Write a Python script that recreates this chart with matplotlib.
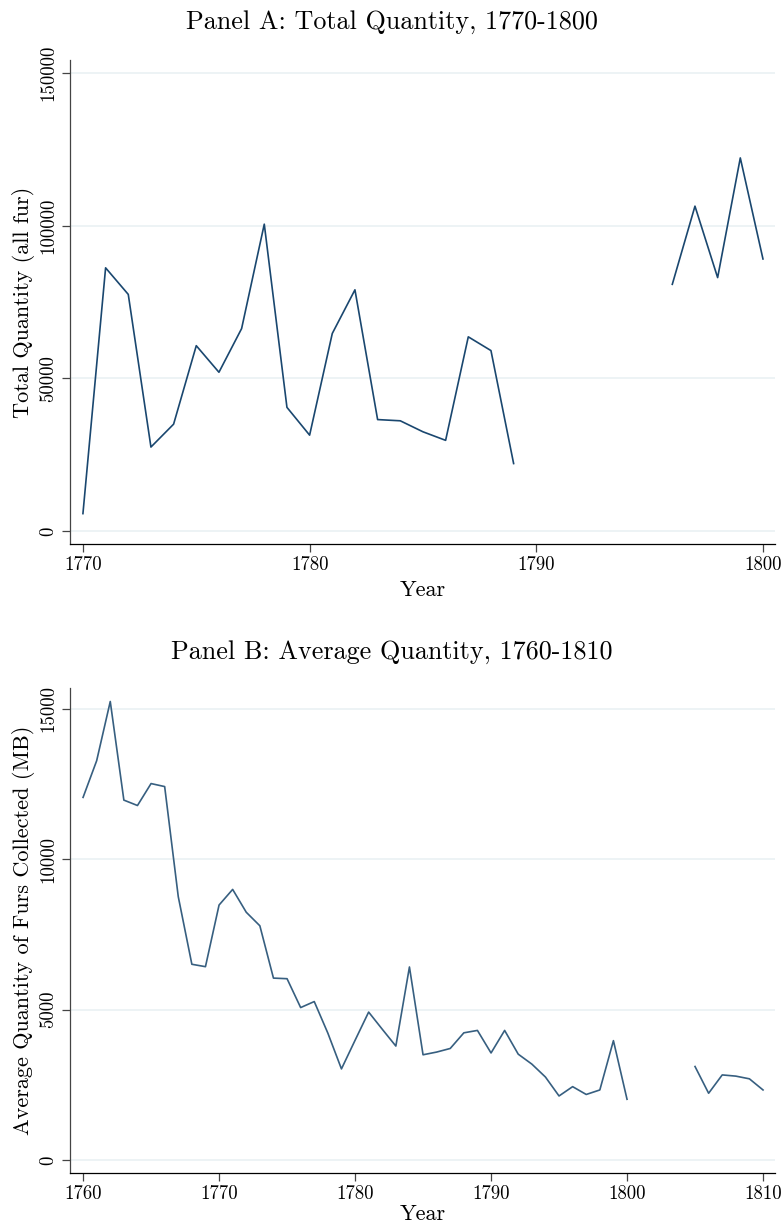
import numpy as np
import matplotlib
matplotlib.use("Agg")
import matplotlib.pyplot as plt

# ===== Data =====
# Panel A: total quantity of furs, 1770-1800 (no data 1790-1795)
years_total = list(range(1770, 1801))
total_qty = [5700, 86200, 77500, 27500, 35000, 60700, 52000, 66300, 100500, 40500,
             31400, 64700, 79000, 36500, 36100, 32500, 29700, 63600, 59100, 22100,
             np.nan, np.nan, np.nan, np.nan, np.nan, np.nan,
             80800, 106400, 83000, 122200, 89100]

# Panel B: average quantity of furs collected (MB), 1760-1810 (no data 1801-1804)
years_avg = list(range(1760, 1811))
avg_qty = [12060, 13280, 15250, 11970, 11790, 12520, 12420, 8760, 6510, 6430,
           8480, 9000, 8240, 7790, 6050, 6030, 5070, 5270, 4220, 3030,
           3980, 4920, 4350, 3790, 6420, 3500, 3590, 3710, 4230, 4310,
           3560, 4310, 3520, 3190, 2760, 2130, 2440, 2180, 2330, 3970,
           2020, np.nan, np.nan, np.nan, np.nan,
           3110, 2220, 2830, 2790, 2700, 2330]

# ===== Style =====
plt.rcParams.update({'font.family': 'cmr10', 'axes.unicode_minus': False})
GRID = '#e8f0f2'
SPINE = '#444444'


def style_axes(ax, yticks, xticks):
    for side in ('top', 'right'):
        ax.spines[side].set_visible(False)
    ax.spines['left'].set_color(SPINE)
    ax.spines['left'].set_linewidth(0.9)
    ax.spines['bottom'].set_color('black')
    ax.spines['bottom'].set_linewidth(0.9)
    ax.set_yticks(yticks)
    ax.set_yticklabels([str(v) for v in yticks], rotation=90, va='center', fontsize=13.5)
    ax.set_xticks(xticks)
    ax.set_xticklabels([str(v) for v in xticks], fontsize=13.5)
    ax.tick_params(axis='y', length=6, width=0.9, color=SPINE, pad=3)
    ax.tick_params(axis='x', length=6, width=0.9, color=SPINE, pad=3)
    ax.grid(axis='y', color=GRID, linewidth=1.1)
    ax.set_axisbelow(True)


fig = plt.figure(figsize=(7.84, 12.3), dpi=100)

# ===== Panel A =====
axA = fig.add_axes([0.0893, 0.5577, 0.8992, 0.3935])
axA.plot(years_total, total_qty, color='#1a476f', linewidth=1.2)
axA.set_xlim(1769.43, 1800.53)
axA.set_ylim(-4260, 154260)
style_axes(axA, [0, 50000, 100000, 150000], [1770, 1780, 1790, 1800])
axA.set_xlabel('Year', fontsize=16, labelpad=4)
axA.set_ylabel('Total Quantity (all fur)', fontsize=16, labelpad=3)
fig.text(0.5, 0.982, 'Panel A: Total Quantity, 1770-1800', ha='center', va='center', fontsize=18.8)

# ===== Panel B =====
axB = fig.add_axes([0.0893, 0.04634, 0.8992, 0.3943])
axB.plot(years_avg, avg_qty, color='#375f80', linewidth=1.2)
axB.set_xlim(1759.04, 1810.88)
axB.set_ylim(-432, 15698)
style_axes(axB, [0, 5000, 10000, 15000], [1760, 1770, 1780, 1790, 1800, 1810])
axB.set_xlabel('Year', fontsize=16, labelpad=1)
axB.set_ylabel('Average Quantity of Furs Collected (MB)', fontsize=16, labelpad=3)
fig.text(0.5, 0.470, 'Panel B: Average Quantity, 1760-1810', ha='center', va='center', fontsize=18.8)

fig.savefig('out.png', dpi=100, facecolor='white')
